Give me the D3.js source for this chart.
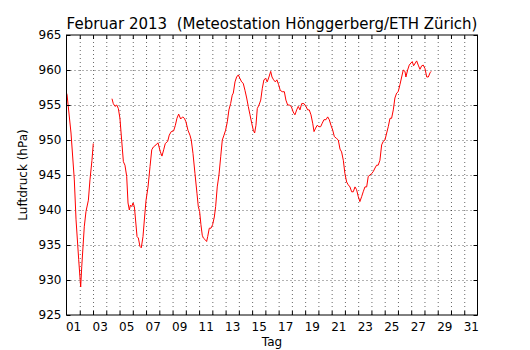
<!DOCTYPE html>
<html>
<head>
<meta charset="utf-8">
<script src="https://cdn.jsdelivr.net/npm/d3@7"></script>
<style>
  html, body { margin: 0; padding: 0; background: #fff; }
  svg { display: block; font-family: "DejaVu Sans", sans-serif; }
</style>
</head>
<body>
<svg id="chart" width="530" height="350"></svg>
<script>
// ---- data ----
const titleText = "Februar 2013  (Meteostation Hönggerberg/ETH Zürich)";
const xLabel = "Tag";
const yLabel = "Luftdruck (hPa)";
const dayLabels = ["01","03","05","07","09","11","13","15","17","19","21","23","25","27","29","31"];
const dayLabelPos = [0.5,2.5,4.5,6.5,8.5,10.5,12.5,14.5,16.5,18.5,20.5,22.5,24.5,26.5,28.5,30.5];
const dayBoundaries = d3.range(1, 31);
const yTicks = [925,930,935,940,945,950,955,960,965];

// time in days since Feb 1 00:00, pressure in hPa (null = gap)
const timeDays = [
 0.0,0.04,0.34,0.59,0.72,0.92,1.07,1.15,1.34,1.47,1.65,1.77,1.92,2.02,
 2.6,
 3.43,3.53,3.66,3.79,3.91,4.03,4.16,4.29,4.41,4.54,4.64,4.74,4.82,4.92,5.02,5.12,5.19,5.32,5.42,5.54,5.64,5.77,5.89,6.0,
 6.15,6.30,6.43,6.55,6.75,6.90,7.08,7.20,7.33,7.45,7.63,7.75,7.90,8.08,8.21,8.33,8.46,8.61,8.76,8.89,9.01,9.16,9.31,9.41,
 9.54,9.69,9.84,9.94,10.04,10.14,10.24,10.32,10.44,10.57,10.65,10.77,10.9,11.02,11.15,11.25,11.37,11.5,11.63,11.75,11.88,
 12.0,12.13,12.25,12.38,12.5,12.58,12.71,12.83,12.96,13.08,13.21,13.33,13.46,13.59,13.71,13.84,13.97,14.09,14.19,14.29,
 14.39,14.52,14.65,14.77,14.89,15.02,15.14,15.27,15.40,15.5,15.62,15.75,15.87,16.0,16.12,16.27,16.43,16.55,16.68,16.8,
 16.95,17.1,17.23,17.36,17.48,17.61,17.74,17.91,18.06,18.19,18.31,18.44,18.57,18.67,18.79,18.91,19.04,19.17,19.29,19.42,
 19.57,19.70,19.82,19.95,20.08,20.20,20.38,20.5,20.63,20.75,20.88,21.0,21.13,21.25,21.38,21.51,21.63,21.76,21.88,22.01,
 22.13,22.26,22.38,22.51,22.64,22.76,22.89,23.02,23.14,23.27,23.39,23.51,23.64,23.77,23.89,24.02,24.15,24.27,24.4,24.52,
 24.65,24.77,24.90,25.02,25.15,25.28,25.40,25.53,25.6,25.73,25.85,25.98,26.08,26.18,26.31,26.41,26.53,26.66,26.79,26.91,
 27.04,27.17,27.29,27.42,27.5
];
const pressure = [
 956.7,956.5,951.0,944.3,938.6,932.9,929.0,931.9,937.6,939.8,941.4,944.3,947.1,949.5,
 null,
 955.9,955.2,954.8,955.0,954.5,953.1,950.0,946.9,946.4,944.8,941.0,940.0,940.7,940.5,941.0,940.5,939.0,936.2,936.0,934.8,934.6,936.2,939.0,941.4,
 943.3,946.2,948.6,949.0,949.3,949.6,948.3,947.7,948.6,949.5,949.8,950.7,951.2,951.3,952.1,953.1,953.7,953.0,953.3,953.1,952.6,951.4,950.7,950.0,
 948.1,945.2,942.4,940.5,939.8,937.9,936.4,936.0,935.8,935.5,936.2,937.4,937.4,937.9,939.0,940.5,943.3,945.0,947.6,950.0,950.7,
 951.4,952.6,954.3,955.2,956.4,956.7,958.3,959.0,959.3,958.8,958.3,958.1,957.1,956.0,954.8,953.6,952.4,951.4,951.0,952.1,
 954.5,955.0,955.7,957.4,958.6,958.8,958.3,959.0,959.8,959.0,958.6,958.3,958.6,957.9,957.1,956.9,956.9,955.7,955.0,955.0,
 954.8,954.0,953.6,954.3,954.8,954.3,955.2,955.2,954.8,954.3,954.3,953.6,952.4,951.2,951.7,952.1,951.9,951.9,952.4,952.9,
 952.9,953.3,952.9,952.1,951.4,950.5,950.2,950.0,948.7,948.3,947.1,945.2,944.0,943.6,943.3,942.6,942.6,943.3,942.9,941.9,
 941.2,941.9,942.6,943.3,943.3,944.8,945.0,945.2,945.5,946.0,946.4,946.4,947.1,949.3,949.8,950.0,951.0,951.9,953.1,953.1,
 954.3,956.0,956.7,956.9,957.9,959.0,960.0,959.8,959.0,960.0,960.7,961.0,961.2,960.6,961.0,961.3,960.7,960.1,960.6,960.7,
 960.2,959.0,959.0,959.6,959.8
];

// ---- drawing ----
const svg = d3.select("#chart");
const x = d3.scaleLinear().domain([0, 31]).range([66.5, 477.5]);
const y = d3.scaleLinear().domain([925, 965]).range([315, 35]);
const W = 477.5 - 66.5, H = 315 - 35;

// gridlines
const grid = svg.append("g").attr("class", "grid");
grid.append("g").attr("transform", "translate(0,315)")
  .call(d3.axisBottom(x).tickValues(dayBoundaries).tickSize(-H).tickFormat(""));
grid.append("g").attr("transform", "translate(66.5,0)")
  .call(d3.axisLeft(y).tickValues(yTicks.slice(1, -1)).tickSize(-W).tickFormat(""));
grid.selectAll(".domain").remove();
grid.selectAll("line").attr("stroke", "#000").attr("stroke-width", 0.6).attr("stroke-dasharray", "1,3");

// data line
const line = d3.line()
  .defined((d, i) => pressure[i] !== null)
  .x((d, i) => x(timeDays[i]))
  .y((d, i) => y(pressure[i]));
svg.append("path").datum(timeDays)
  .attr("d", line)
  .attr("fill", "none")
  .attr("stroke", "#ff0000")
  .attr("stroke-width", 1)
  .attr("stroke-linejoin", "round");

// axes ticks (inside)
const tickStyle = g => {
  g.selectAll(".domain").remove();
  g.selectAll("line").attr("stroke", "#000").attr("stroke-width", 1);
};
svg.append("g").attr("transform", "translate(0,315)")
  .call(d3.axisBottom(x).tickValues(dayBoundaries).tickSize(-4).tickFormat("")).call(tickStyle);
svg.append("g").attr("transform", "translate(0,35)")
  .call(d3.axisTop(x).tickValues(dayBoundaries).tickSize(-4).tickFormat("")).call(tickStyle);
svg.append("g").attr("transform", "translate(66.5,0)")
  .call(d3.axisLeft(y).tickValues(yTicks).tickSize(-4).tickFormat("")).call(tickStyle);
svg.append("g").attr("transform", "translate(477.5,0)")
  .call(d3.axisRight(y).tickValues(yTicks).tickSize(-4).tickFormat("")).call(tickStyle);

// labels
const xl = svg.append("g").attr("transform", "translate(0,315)")
  .call(d3.axisBottom(x).tickValues(dayLabelPos).tickSize(0).tickPadding(7)
    .tickFormat((d, i) => dayLabels[i]));
xl.select(".domain").remove();
xl.selectAll("text").attr("font-size", 12).attr("font-family", "DejaVu Sans").attr("fill", "#000");

const yl = svg.append("g").attr("transform", "translate(66.5,0)")
  .call(d3.axisLeft(y).tickValues(yTicks).tickSize(0).tickPadding(5).tickFormat(d3.format("d")));
yl.select(".domain").remove();
yl.selectAll("text").attr("font-size", 12).attr("font-family", "DejaVu Sans").attr("fill", "#000");

// frame
svg.append("rect").attr("x", 66.5).attr("y", 35).attr("width", W).attr("height", H)
  .attr("fill", "none").attr("stroke", "#000").attr("stroke-width", 1);

// titles
svg.append("text").attr("x", 272).attr("y", 29).attr("text-anchor", "middle")
  .style("white-space", "pre").attr("xml:space", "preserve")
  .attr("font-size", 15).text(titleText);
svg.append("text").attr("x", 272).attr("y", 346).attr("text-anchor", "middle")
  .attr("font-size", 12).text(xLabel);
svg.append("text").attr("transform", "translate(27,175) rotate(-90)").attr("text-anchor", "middle")
  .attr("font-size", 12).text(yLabel);
</script>
</body>
</html>
